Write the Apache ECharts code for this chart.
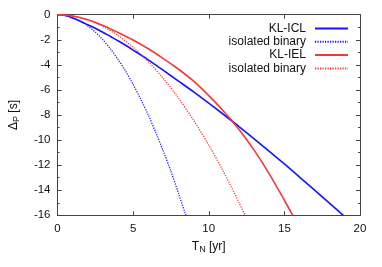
<!DOCTYPE html>
<html><head><meta charset="utf-8">
<script src="https://cdn.jsdelivr.net/npm/echarts@6/dist/echarts.min.js"></script>
<style>html,body{margin:0;padding:0;background:#fff}#c{width:382px;height:267px}</style>
</head><body><div id="c"></div>
<script>
// KL-ICL (blue solid)
const iclX = [0, 0.5, 1, 1.5, 2, 2.5, 3, 3.5, 4, 4.5, 5, 6, 7, 8, 9, 10, 11, 12, 13, 14, 15, 16, 17, 18, 18.9];
const iclY = [0, -0.06, -0.26, -0.52, -0.8, -1.08, -1.4, -1.74, -2.08, -2.44, -2.82, -3.6, -4.44, -5.3, -6.16, -7.06, -7.98, -8.92, -9.9, -10.9, -11.9, -12.95, -14.0, -15.05, -16];
// isolated binary (blue dotted)
const isoBlueX = [0, 0.5, 1, 1.5, 2, 2.5, 3, 3.5, 4, 4.5, 5, 5.5, 6, 6.5, 7, 7.5, 8, 8.48];
const isoBlueY = [0, -0.056, -0.22, -0.5, -0.89, -1.39, -2.0, -2.73, -3.56, -4.5, -5.56, -6.73, -8.0, -9.4, -10.9, -12.5, -14.25, -16];
// KL-IEL (red solid)
const ielX = [0, 1, 2, 3, 4, 5, 6, 7, 8, 9, 10, 11, 12, 13, 14, 15, 15.55];
const ielY = [0, -0.1, -0.4, -0.86, -1.42, -2.02, -2.72, -3.5, -4.35, -5.3, -6.45, -7.72, -9.15, -10.8, -12.7, -14.8, -16];
// isolated binary (red dotted)
const isoRedX = [0, 1, 2, 3, 4, 5, 6, 7, 8, 9, 10, 11, 12, 12.4];
const isoRedY = [0, -0.1, -0.42, -0.94, -1.66, -2.6, -3.74, -5.1, -6.65, -8.42, -10.4, -12.58, -14.98, -16];

const xTicks = [0, 5, 10, 15, 20];
const yTicks = [0, -2, -4, -6, -8, -10, -12, -14, -16];

const zip = (xs, ys) => xs.map((x, i) => [x, ys[i]]);
const FONT = 'Liberation Sans, Arial, sans-serif';
const AX = '#444';
const BLUE = '#1515ff';
const RED = '#f03a3a';

const chart = echarts.init(document.getElementById('c'), null, {renderer: 'canvas'});
const baseAxis = {
  type: 'value',
  axisLine: {show: true, onZero: false, lineStyle: {color: AX, width: 1}},
  splitLine: {show: false},
};
chart.setOption({
  animation: false,
  backgroundColor: '#fff',
  grid: {left: 52.7, right: 22, top: 14.7, bottom: 51.7},
  legend: {
    orient: 'vertical', right: 28, top: 17.5, align: 'right',
    itemWidth: 33, itemHeight: 11, itemGap: 1.3,
    itemStyle: {opacity: 0},
    textStyle: {fontFamily: FONT, fontSize: 12, lineHeight: 11, color: '#111', padding: [0, 4, 0, 0]},
    formatter: n => n.indexOf('isolated') === 0 ? 'isolated binary' : n,
    data: ['KL-ICL', 'isolated binary (ICL)', 'KL-IEL', 'isolated binary (IEL)']
  },
  xAxis: [
    Object.assign({}, baseAxis, {
      min: xTicks[0], max: xTicks[xTicks.length - 1], interval: 5, position: 'bottom',
      axisTick: {show: true, inside: true, length: 4, lineStyle: {color: AX}},
      axisLabel: {show: true, margin: 8, fontFamily: FONT, fontSize: 11.5, color: '#111'},
      name: '{a|T}{s|N}{a| [yr]}', nameLocation: 'middle', nameGap: 22,
      nameTextStyle: {rich: {a: {fontFamily: FONT, fontSize: 12, color: '#111'}, s: {fontFamily: FONT, fontSize: 9, color: '#111', verticalAlign: 'bottom', padding: [6, 0, 0, 0]}}}
    }),
    Object.assign({}, baseAxis, {
      min: 0, max: 20, interval: 5, position: 'top',
      axisTick: {show: true, inside: true, length: 4, lineStyle: {color: AX}},
      axisLabel: {show: false}
    })
  ],
  yAxis: [
    Object.assign({}, baseAxis, {
      min: yTicks[yTicks.length - 1], max: yTicks[0], interval: 2, position: 'left',
      axisTick: {show: true, inside: true, length: 4, lineStyle: {color: AX}},
      minorTick: {show: true, splitNumber: 2, length: 2, lineStyle: {color: AX}},
      axisLabel: {show: true, margin: 7, fontFamily: FONT, fontSize: 11.5, color: '#111'},
      name: '{a|Δ}{s|P}{a| [s]}', nameLocation: 'middle', nameGap: 36, nameRotate: 90,
      nameTextStyle: {rich: {a: {fontFamily: FONT, fontSize: 12, color: '#111'}, s: {fontFamily: FONT, fontSize: 9, color: '#111', padding: [6, 0, 0, 0]}}}
    }),
    Object.assign({}, baseAxis, {
      min: -16, max: 0, interval: 2, position: 'right',
      axisTick: {show: true, inside: true, length: 4, lineStyle: {color: AX}},
      minorTick: {show: true, splitNumber: 2, length: 2, lineStyle: {color: AX}},
      axisLabel: {show: false}
    })
  ],
  series: [
    {name: 'KL-ICL', type: 'line', data: zip(iclX, iclY), smooth: 0.3, symbol: 'none', color: BLUE, lineStyle: {color: BLUE, width: 1.6}},
    {name: 'isolated binary (ICL)', type: 'line', data: zip(isoBlueX, isoBlueY), smooth: 0.3, symbol: 'none', color: BLUE, lineStyle: {color: BLUE, width: 1.3, type: [1.2, 1.3]}},
    {name: 'KL-IEL', type: 'line', data: zip(ielX, ielY), smooth: 0.3, symbol: 'none', color: RED, lineStyle: {color: RED, width: 1.6}},
    {name: 'isolated binary (IEL)', type: 'line', data: zip(isoRedX, isoRedY), smooth: 0.3, symbol: 'none', color: RED, lineStyle: {color: RED, width: 1.3, type: [1.2, 1.3]}}
  ]
});
</script></body></html>
